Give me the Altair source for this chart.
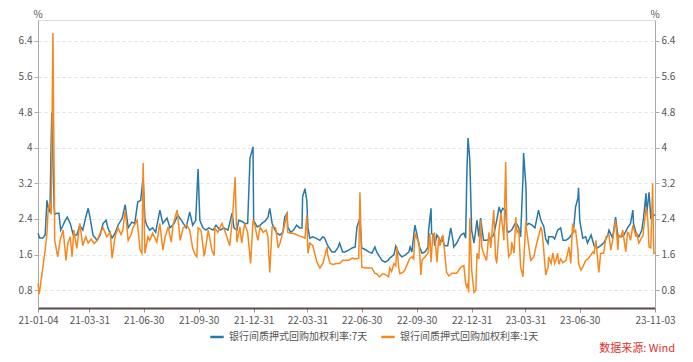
import altair as alt
import pandas as pd

START = "2021-01-04"

# 银行间质押式回购加权利率:7天  (day offset from 2021-01-04, value %)
days_7d = [0,3,8,12,15,18,20,23,27,28,32,35,38,42,45,49,54,59,65,70,75,80,84,87,92,99,104,109,114,117,124,129,134,141,146,151,157,162,167,172,176,179,182,187,192,197,204,209,216,221,228,234,241,248,254,259,264,268,271,276,281,286,293,298,305,311,318,325,328,333,336,341,346,351,355,360,361,367,372,375,380,385,388,392,395,400,405,410,413,417,418,423,428,433,438,442,443,447,450,452,455,460,465,472,477,480,485,492,497,502,505,510,514,520,526,531,534,537,539,542,547,554,559,564,567,572,576,581,586,589,596,599,604,609,614,621,623,626,631,634,638,643,648,653,654,658,659,663,664,668,671,673,676,681,683,686,691,695,696,701,708,713,716,718,720,723,726,730,735,738,741,743,746,751,758,763,768,772,775,778,783,785,788,793,800,805,808,812,813,817,818,822,827,832,838,842,847,850,854,855,862,865,870,875,879,884,889,895,897,900,904,905,907,912,917,920,926,931,937,942,947,954,956,962,967,971,976,981,987,992,996,997,1001,1006,1011,1014,1018,1019,1023,1026,1029,1033]
rate_7d = [2.08,1.97,1.97,2.04,2.82,2.6,2.56,4.78,2.7,2.5,2.53,2.53,2.15,2.26,2.35,2.44,2.3,2.04,2.04,2.26,2.15,2.44,2.64,2.44,2.04,1.92,2.04,2.3,2.37,2.2,1.97,2.08,2.26,2.42,2.72,2.2,2.33,2.3,2.78,2.82,3.34,2.4,2.26,2.15,2.2,2.1,2.6,2.3,2.42,2.2,2.3,2.49,2.35,2.2,2.56,2.26,2.37,3.52,2.37,2.2,2.15,2.2,2.15,2.26,2.15,2.2,2.15,2.53,2.2,2.15,2.37,2.35,2.3,2.3,3.77,4.02,2.37,2.22,2.26,2.3,2.35,2.44,2.64,2.3,2.2,2.08,2.04,2.1,2.44,2.53,2.22,2.1,2.15,2.26,2.2,2.2,2.9,3.08,2.82,2.2,1.97,2.0,1.97,1.92,2.0,1.97,1.8,1.66,1.66,1.75,1.86,1.66,1.66,1.7,1.75,1.77,2.22,2.33,2.42,1.75,1.72,1.66,1.63,1.77,1.66,1.55,1.47,1.43,1.47,1.52,1.6,1.79,1.63,1.55,1.58,1.66,1.77,1.66,2.26,2.08,1.8,1.63,1.66,1.77,2.15,2.64,2.08,2.0,1.8,2.04,1.97,1.86,1.97,1.8,1.8,1.8,2.2,1.9,1.77,1.86,2.04,2.08,1.97,3.43,4.22,3.72,2.15,1.86,2.37,2.0,2.42,2.22,1.92,1.92,1.97,2.04,2.37,2.67,2.53,2.64,2.6,2.15,2.1,2.15,2.33,2.2,2.0,3.34,3.88,3.1,2.26,2.3,2.26,2.2,2.6,2.37,2.22,1.95,1.85,2.0,2.0,1.95,2.15,2.2,1.92,1.92,1.97,2.08,2.2,2.67,2.87,3.1,2.37,1.97,2.0,1.86,2.04,1.8,1.75,1.8,1.86,2.04,2.15,1.97,2.44,2.0,2.0,2.04,2.2,2.3,2.6,2.3,2.1,2.0,2.15,2.44,2.98,2.5,3.0,2.42,2.45,2.5]

# 银行间质押式回购加权利率:1天
days_1d = [0,2,7,12,15,17,20,22,25,28,33,37,42,47,50,54,57,60,65,70,75,80,84,89,94,99,104,109,115,121,124,129,134,139,142,146,151,156,159,166,171,174,176,179,184,187,192,199,204,209,213,218,223,226,233,238,243,249,254,259,263,266,268,273,278,279,285,291,295,296,301,308,315,321,326,330,333,338,341,346,351,356,360,363,368,372,377,382,385,388,392,395,398,402,405,410,417,418,422,427,432,437,442,447,450,452,455,460,467,472,477,484,485,489,494,500,505,510,515,520,526,531,537,539,542,547,554,559,564,567,572,577,582,587,589,592,596,599,601,604,606,611,614,621,623,626,629,631,634,638,641,643,648,653,656,658,661,664,668,671,673,678,681,684,688,693,696,701,708,713,716,718,720,721,723,726,730,733,735,738,741,743,746,751,755,758,763,766,768,772,775,778,780,783,785,788,792,793,797,800,802,805,808,812,813,817,818,822,825,830,835,842,844,847,850,854,855,859,862,865,867,870,872,875,879,884,889,892,895,897,900,904,905,909,912,917,922,929,931,934,936,939,942,947,951,954,956,959,962,967,971,972,976,979,984,987,989,992,996,1001,1002,1006,1013,1018,1021,1023,1026,1029,1031,1033]
rate_1d = [0.95,0.71,1.2,1.7,2.08,2.6,2.76,2.5,6.58,1.92,1.55,1.92,2.15,1.47,1.86,2.0,1.55,2.15,1.74,2.3,1.8,2.0,1.86,1.95,1.85,1.92,2.08,2.2,2.0,2.1,1.52,2.0,2.2,2.05,2.15,2.6,1.92,2.05,2.2,2.37,1.7,1.63,3.66,1.63,2.0,1.92,2.08,1.88,2.3,1.7,2.0,2.22,1.88,2.26,2.6,1.92,2.2,2.26,2.15,1.74,1.6,1.55,2.2,2.15,1.58,1.6,2.15,1.7,1.58,2.2,2.1,2.3,2.05,1.8,2.49,3.34,1.88,2.22,1.86,2.3,2.1,1.4,2.37,2.26,1.92,2.22,2.1,2.15,2.0,1.2,2.22,2.22,2.2,1.75,1.85,2.1,2.53,2.1,2.08,2.08,2.05,2.02,2.0,1.97,2.49,1.63,1.86,1.8,1.43,1.3,1.4,1.77,1.6,1.4,1.38,1.4,1.4,1.47,1.47,1.47,1.52,1.5,1.52,3.0,1.32,1.3,1.3,1.3,1.18,1.17,1.1,1.17,1.15,1.1,1.3,1.22,1.4,1.35,1.77,1.3,1.17,1.2,1.25,1.47,1.52,1.55,1.5,2.08,1.97,1.86,1.14,1.47,1.55,1.63,2.08,1.43,2.04,2.08,1.43,2.0,1.8,2.04,1.63,1.2,1.12,1.18,1.18,1.18,1.32,1.35,0.95,0.87,0.97,0.75,2.42,1.25,0.75,0.8,1.63,1.5,2.37,1.77,1.63,1.47,2.1,1.75,2.6,1.55,1.4,2.15,2.53,2.2,1.92,3.68,2.15,1.55,1.63,1.88,1.63,2.44,2.1,2.15,1.32,1.1,1.4,2.37,2.15,1.75,1.47,1.55,1.86,2.22,2.1,1.66,1.14,1.32,1.55,1.4,1.63,1.4,1.47,1.63,1.38,1.5,1.42,1.47,1.77,1.4,2.3,2.1,2.15,1.7,1.4,1.25,1.32,1.47,1.52,1.66,1.63,1.92,1.63,1.2,1.63,1.63,2.0,2.04,2.04,1.7,1.92,2.37,1.7,2.04,2.0,2.15,1.66,2.1,2.08,1.92,2.26,2.0,2.1,1.86,2.04,2.67,2.37,1.77,1.75,3.2,1.63,1.65]

series_names = ["银行间质押式回购加权利率:7天", "银行间质押式回购加权利率:1天"]
series_colors = ["#2878a8", "#f5891f"]
y_ticks = [0.8, 1.6, 2.4, 3.2, 4.0, 4.8, 5.6, 6.4]
x_tick_dates = ["2021-01-04", "2021-03-31", "2021-06-30", "2021-09-30", "2021-12-31",
                "2022-03-31", "2022-06-30", "2022-09-30", "2022-12-31", "2023-03-31",
                "2023-06-30", "2023-11-03"]
unit_label = "%"
source_note = "数据来源: Wind"

start = pd.Timestamp(START)
df7 = pd.DataFrame({"date": start + pd.to_timedelta(days_7d, unit="D"), "value": rate_7d, "series": series_names[0]})
df1 = pd.DataFrame({"date": start + pd.to_timedelta(days_1d, unit="D"), "value": rate_1d, "series": series_names[1]})
df = pd.concat([df7, df1], ignore_index=True)
df["order"] = df["series"].map({series_names[0]: 0, series_names[1]: 1})


def dt(s):
    t = pd.Timestamp(s)
    return alt.DateTime(year=t.year, month=t.month, date=t.day)


FONT = "Noto Sans CJK SC"
ydomain = [0.4, 6.87]
xscale = alt.Scale(domain=[dt("2021-01-04"), dt("2023-11-03")], nice=False)
xaxis = alt.Axis(values=[dt(d) for d in x_tick_dates], format="%y-%m-%d", title=None,
                 labelColor="#555555", labelFontSize=10, labelFont=FONT,
                 domainColor="#5a4a4a", domainWidth=2, tickColor="#999999", tickSize=4,
                 labelPadding=3, grid=False, labelFlush=False, labelOverlap=False)


def yaxis(orient, grid):
    return alt.Axis(orient=orient, values=y_ticks, format=".1~f", title=None,
                    labelColor="#555555", labelFontSize=10, labelFont=FONT,
                    domainColor="#aaaaaa", tickColor="#aaaaaa", tickSize=4,
                    grid=grid, gridColor="#e3e3e3", gridDash=[3, 3])


left = alt.Chart(df).mark_line(strokeWidth=1.5).encode(
    x=alt.X("date:T", scale=xscale, axis=xaxis),
    y=alt.Y("value:Q", scale=alt.Scale(domain=ydomain, nice=False, zero=False), axis=yaxis("left", True)),
    color=alt.Color("series:N", scale=alt.Scale(domain=series_names, range=series_colors),
                    legend=alt.Legend(title=None, orient="none", legendX=171, legendY=309,
                                      direction="horizontal", symbolType="stroke",
                                      symbolStrokeWidth=2.5, symbolSize=180,
                                      labelFontSize=10, labelFont=FONT, labelColor="#555555",
                                      columnPadding=8, labelLimit=300)),
    detail="series:N",
    order="order:Q",
)

right = alt.Chart(df).mark_line(opacity=0).encode(
    x=alt.X("date:T", scale=xscale, axis=xaxis),
    y=alt.Y("value:Q", scale=alt.Scale(domain=ydomain, nice=False, zero=False), axis=yaxis("right", False)),
    detail="series:N",
)

unit_df = pd.DataFrame({"t": [unit_label]})
unit_left = alt.Chart(unit_df).mark_text(
    align="center", baseline="middle", color="#555555", fontSize=10, font=FONT
).encode(text="t:N", x=alt.value(0), y=alt.value(-5))
unit_right = alt.Chart(unit_df).mark_text(
    align="center", baseline="middle", color="#555555", fontSize=10, font=FONT
).encode(text="t:N", x=alt.value(617), y=alt.value(-5))

note = alt.Chart(pd.DataFrame({"t": [source_note]})).mark_text(
    align="right", baseline="middle", color="#e0322e", fontSize=11, font=FONT
).encode(text="t:N", x=alt.value(637), y=alt.value(329))

chart = alt.layer(left, right, unit_left, unit_right, note).resolve_scale(y="independent").properties(
    width=617, height=288,
    autosize=alt.AutoSizeParams(type="none"),
    padding={"left": 30, "top": 12, "right": 30, "bottom": 52},
).configure_view(stroke=None).configure(background="white")

chart.save("out.html", embed_options={"renderer": "svg", "actions": False})
